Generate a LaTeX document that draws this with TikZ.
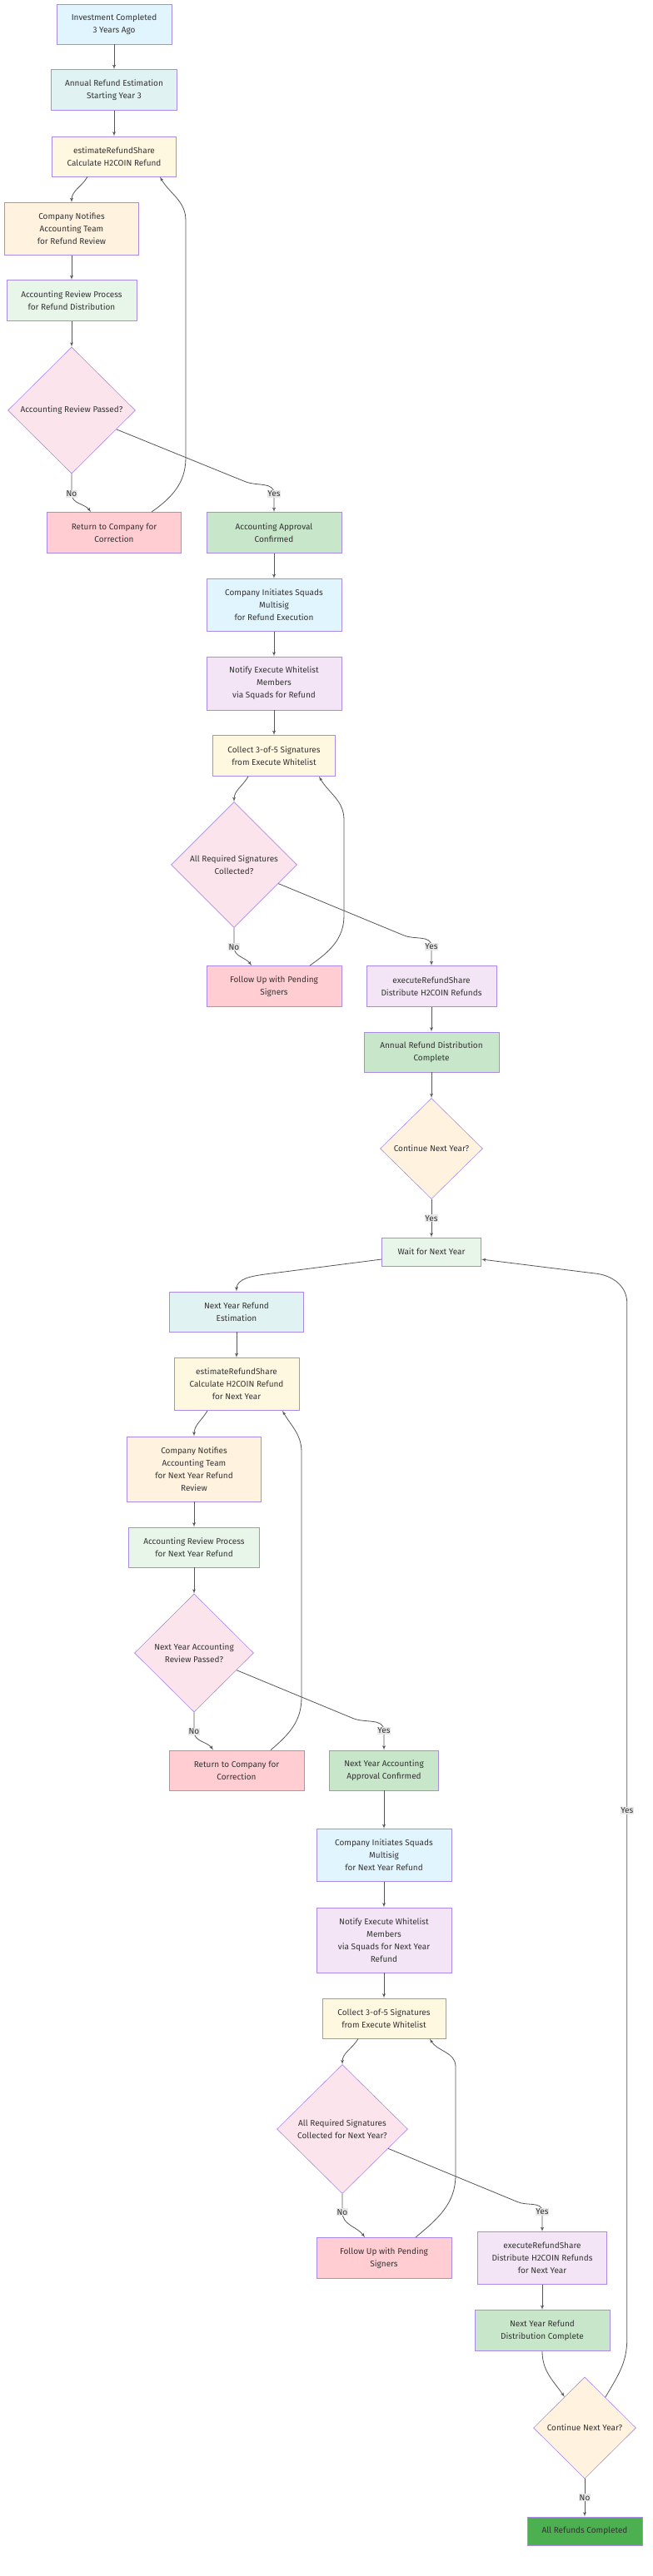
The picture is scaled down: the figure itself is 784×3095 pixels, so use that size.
\documentclass[tikz,border=0pt]{standalone}
\usepackage{fontspec}
\setmainfont{Fira Sans}
\usetikzlibrary{arrows,shapes.geometric}

\definecolor{nodeline}{HTML}{A98AE6}
\definecolor{linegray}{HTML}{555555}
\definecolor{textgray}{HTML}{333333}
\definecolor{lblgray}{HTML}{E8E8E8}
\definecolor{cblue}{HTML}{E1F5FE}
\definecolor{cteal}{HTML}{E0F2F1}
\definecolor{camber}{HTML}{FFF8E1}
\definecolor{corange}{HTML}{FFF3E0}
\definecolor{cgreenlt}{HTML}{E8F5E9}
\definecolor{cpink}{HTML}{FCE4EC}
\definecolor{cred}{HTML}{FFCDD2}
\definecolor{cgreen}{HTML}{C8E6C9}
\definecolor{cpurple}{HTML}{F3E5F5}
\definecolor{cdone}{HTML}{4CAF50}

\newcommand\nodefont{\fontsize{10}{15}\selectfont}

\tikzset{
    box/.style={rectangle,draw=nodeline,line width=0.9pt,text=textgray,align=center,inner sep=0pt,font=\nodefont},
    choice/.style={diamond,aspect=1,draw=nodeline,line width=0.6pt,text=textgray,align=center,inner sep=0pt,font=\nodefont},
    lbl/.style={fill=lblgray,inner xsep=0.5pt,inner ysep=1pt,text=textgray,font=\nodefont},
    flow/.style={->,draw=linegray}
}

\begin{document}
\begin{tikzpicture}[x=1pt,y=1pt,>=latex',line width=0.8pt]

    \fill[white] (0,0) rectangle (784,-3095);
    \useasboundingbox (0,0) rectangle (784,-3095);

    \begin{scope}
        \node[box,fill=cblue,minimum width=138,minimum height=48] (START) at (137,-29) {Investment Completed\\3 Years Ago};
        \node[box,fill=cteal,minimum width=151,minimum height=49] (EST) at (137,-108) {Annual Refund Estimation\\Starting Year 3};
        \node[box,fill=camber,minimum width=149,minimum height=48] (CALC) at (137,-188) {estimateRefundShare\\Calculate H2COIN Refund};
        \node[box,fill=corange,minimum width=161,minimum height=63] (NOTIFY) at (86,-275) {Company Notifies\\Accounting Team\\for Refund Review};
        \node[box,fill=cgreenlt,minimum width=156,minimum height=49] (REVIEW) at (86,-361) {Accounting Review Process\\for Refund Distribution};
        \node[choice,fill=cpink,minimum width=153,minimum height=152] (PASS) at (86,-493) {Accounting Review Passed?};
        \node[box,fill=cred,minimum width=161,minimum height=49] (RET) at (137,-640) {Return to Company for\\Correction};
        \node[box,fill=cgreen,minimum width=162,minimum height=49] (APPR) at (329,-640) {Accounting Approval\\Confirmed};
        \node[box,fill=cblue,minimum width=162,minimum height=63] (INIT) at (329,-727) {Company Initiates Squads\\Multisig\\for Refund Execution};
        \node[box,fill=cpurple,minimum width=162,minimum height=64] (WLIST) at (329,-821) {Notify Execute Whitelist\\Members\\via Squads for Refund};
        \node[box,fill=camber,minimum width=147,minimum height=49] (SIG) at (329,-908) {Collect 3-of-5 Signatures\\from Execute Whitelist};
        \node[choice,fill=cpink,minimum width=151,minimum height=151] (ALLSIG) at (281,-1039) {All Required Signatures\\Collected?};
        \node[box,fill=cred,minimum width=162,minimum height=49] (FOLLOW) at (329,-1185) {Follow Up with Pending\\Signers};
        \node[box,fill=cpurple,minimum width=156,minimum height=49] (EXEC) at (518,-1185) {executeRefundShare\\Distribute H2COIN Refunds};
        \node[box,fill=cgreen,minimum width=162,minimum height=48] (DONE) at (518,-1264) {Annual Refund Distribution\\Complete};
        \node[choice,fill=corange,minimum width=123,minimum height=121] (CONT) at (518,-1380) {Continue Next Year?};
        \node[box,fill=cgreenlt,minimum width=119,minimum height=34] (WAIT) at (518,-1504) {Wait for Next Year};

        \draw[flow] (START) -- (EST);
        \draw[flow] (EST) -- (CALC);
        \draw[flow] ([xshift=-32]CALC.south) to[out=-120,in=90] (NOTIFY.north);
        \draw[flow] (NOTIFY) -- (REVIEW);
        \draw[flow] (REVIEW) -- (PASS);
        \draw[flow] (PASS.south) -- node[lbl,pos=1] {No} ++(0,-24) to[out=-90,in=125] ([xshift=-28]RET.north);
        \draw[flow] (PASS.-23) -- ++(155,-63) to[out=-22,in=90] ([yshift=22]APPR.north) -- node[lbl,pos=0] {Yes} (APPR.north);
        \draw[flow] ([xshift=45]RET.north) to[out=35,in=-90] ++(41,65) -- ++(0,285) to[out=90,in=-60] ([xshift=55]CALC.south);
        \draw[flow] (APPR) -- (INIT);
        \draw[flow] (INIT) -- (WLIST);
        \draw[flow] (WLIST) -- (SIG);
        \draw[flow] ([xshift=-31]SIG.south) to[out=-120,in=90] (ALLSIG.north);
        \draw[flow] (ALLSIG.south) -- node[lbl,pos=1] {No} ++(0,-23) to[out=-90,in=125] ([xshift=-27]FOLLOW.north);
        \draw[flow] (ALLSIG.-23) -- ++(150,-62) to[out=-25,in=90] ([yshift=23]EXEC.north) -- node[lbl,pos=0] {Yes} (EXEC.north);
        \draw[flow] ([xshift=43]FOLLOW.north) to[out=35,in=-90] ++(41,60) -- ++(0,115) to[out=90,in=-60] ([xshift=54]SIG.south);
        \draw[flow] (EXEC) -- (DONE);
        \draw[flow] (DONE) -- (CONT);
        \draw[flow] (CONT) -- node[lbl] {Yes} (WAIT);
    \end{scope}

    \begin{scope}
        \node[box,fill=cteal,minimum width=161,minimum height=48] (NEST) at (284,-1576) {Next Year Refund\\Estimation};
        \node[box,fill=camber,minimum width=150,minimum height=63] (NCALC) at (284,-1663) {estimateRefundShare\\Calculate H2COIN Refund\\for Next Year};
        \node[box,fill=corange,minimum width=161,minimum height=78] (NNOTIFY) at (233,-1765) {Company Notifies\\Accounting Team\\for Next Year Refund\\Review};
        \node[box,fill=cgreenlt,minimum width=157,minimum height=48] (NREVIEW) at (233,-1859) {Accounting Review Process\\for Next Year Refund};
        \node[choice,fill=cpink,minimum width=143,minimum height=142] (NPASS) at (233,-1986) {Next Year Accounting\\Review Passed?};
        \node[box,fill=cred,minimum width=162,minimum height=48] (NRET) at (284,-2127) {Return to Company for\\Correction};
        \node[box,fill=cgreen,minimum width=131,minimum height=48] (NAPPR) at (461,-2127) {Next Year Accounting\\Approval Confirmed};
        \node[box,fill=cblue,minimum width=162,minimum height=63] (NINIT) at (461,-2229) {Company Initiates Squads\\Multisig\\for Next Year Refund};
        \node[box,fill=cpurple,minimum width=162,minimum height=78] (NWLIST) at (461,-2331) {Notify Execute Whitelist\\Members\\via Squads for Next Year\\Refund};
        \node[box,fill=camber,minimum width=148,minimum height=48] (NSIG) at (461,-2425) {Collect 3-of-5 Signatures\\from Execute Whitelist};
        \node[choice,fill=cpink,minimum width=157,minimum height=155] (NALLSIG) at (411,-2558) {All Required Signatures\\Collected for Next Year?};
        \node[box,fill=cred,minimum width=162,minimum height=49] (NFOLLOW) at (461,-2713) {Follow Up with Pending\\Signers};
        \node[box,fill=cpurple,minimum width=155,minimum height=63] (NEXEC) at (651,-2713) {executeRefundShare\\Distribute H2COIN Refunds\\for Next Year};
        \node[box,fill=cgreen,minimum width=162,minimum height=49] (NDONE) at (651,-2800) {Next Year Refund\\Distribution Complete};
        \node[choice,fill=corange,minimum width=123,minimum height=122] (NCONT) at (702,-2917) {Continue Next Year?};
        \node[box,fill=cdone,minimum width=138,minimum height=34] (END) at (702,-3041) {All Refunds Completed};

        \draw[flow] ([yshift=-9]WAIT.west) -- ++(-140,-18) to[out=-172,in=90] (NEST.north);
        \draw[flow] (NEST) -- (NCALC);
        \draw[flow] ([xshift=-35]NCALC.south) to[out=-120,in=90] (NNOTIFY.north);
        \draw[flow] (NNOTIFY) -- (NREVIEW);
        \draw[flow] (NREVIEW) -- (NPASS);
        \draw[flow] (NPASS.south) -- node[lbl,pos=1] {No} ++(0,-23) to[out=-90,in=125] ([xshift=-28]NRET.north);
        \draw[flow] (NPASS.-22) -- ++(140,-58) to[out=-22,in=90] ([yshift=23]NAPPR.north) -- node[lbl,pos=0] {Yes} (NAPPR.north);
        \draw[flow] ([xshift=41]NRET.north) to[out=40,in=-90] ++(37,63) -- ++(0,295) to[out=90,in=-60] ([xshift=55]NCALC.south);
        \draw[flow] (NAPPR) -- (NINIT);
        \draw[flow] (NINIT) -- (NWLIST);
        \draw[flow] (NWLIST) -- (NSIG);
        \draw[flow] ([xshift=-31]NSIG.south) to[out=-120,in=90] (NALLSIG.north);
        \draw[flow] (NALLSIG.south) -- node[lbl,pos=1] {No} ++(0,-22) to[out=-90,in=125] ([xshift=-23]NFOLLOW.north);
        \draw[flow] (NALLSIG.-23) -- ++(155,-64) to[out=-25,in=90] ([yshift=24]NEXEC.north) -- node[lbl,pos=0] {Yes} (NEXEC.north);
        \draw[flow] ([xshift=38]NFOLLOW.north) to[out=40,in=-90] ++(48,75) -- ++(0,130) to[out=90,in=-60] ([xshift=55]NSIG.south);
        \draw[flow] (NEXEC) -- (NDONE);
        \draw[flow] (NDONE.south) to[out=-90,in=125] (NCONT.123);
        \draw[flow] (NCONT) -- node[lbl] {No} (END);
        \draw[flow] (NCONT.56) to[out=60,in=-90] ++(26,70) -- node[lbl,pos=0.51] {Yes} ++(0,1245) to[out=90,in=-8] ++(-36,35) -- ([yshift=-9]WAIT.east);
    \end{scope}

\end{tikzpicture}
\end{document}
